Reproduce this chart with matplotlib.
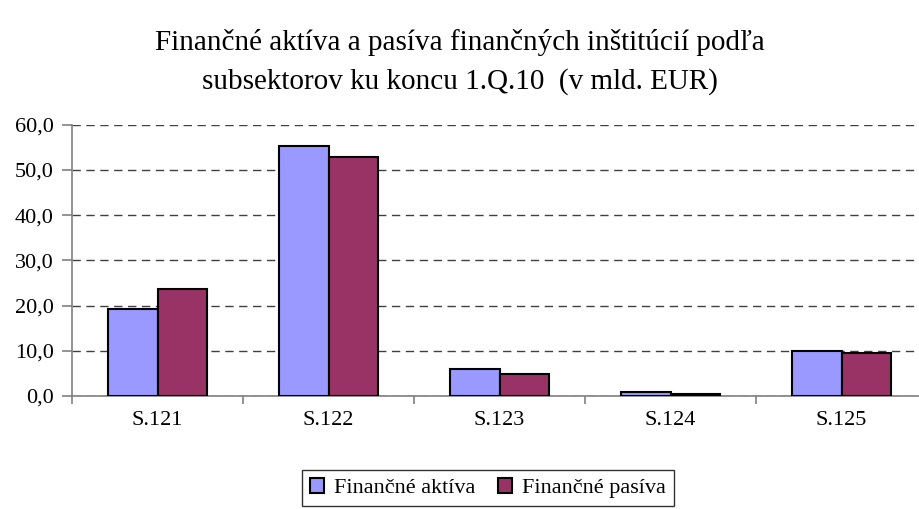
import matplotlib
matplotlib.use("Agg")
import matplotlib.pyplot as plt
import numpy as np
from matplotlib.ticker import FixedLocator, FuncFormatter

categories = ["S.121", "S.122", "S.123", "S.124", "S.125"]
aktiva = [19.3, 55.2, 6.0, 0.8, 10.0]
pasiva = [23.7, 52.9, 4.8, 0.4, 9.6]
series_names = ["Finančné aktíva", "Finančné pasíva"]
title = "Finančné aktíva a pasíva finančných inštitúcií podľa\nsubsektorov ku koncu 1.Q.10  (v mld. EUR)"

plt.rcParams['font.family'] = ['Liberation Serif', 'DejaVu Serif']

W, H = 919, 509
fig = plt.figure(figsize=(W / 100, H / 100), dpi=100)
left, right, bottom, top = 72, 927, 396, 124.7
ax = fig.add_axes([left / W, 1 - bottom / H, (right - left) / W, (bottom - top) / H])

x = np.arange(len(categories))
w = 0.287
ax.bar(x - w / 2, aktiva, w, color="#9999FF", edgecolor="black", linewidth=1.5, label=series_names[0], zorder=3)
ax.bar(x + w / 2, pasiva, w, color="#993366", edgecolor="black", linewidth=1.5, label=series_names[1], zorder=3)

ax.set_xlim(-0.5, len(categories) - 0.5)
ax.set_ylim(0, 60)
ax.set_yticks(np.arange(0, 61, 10))
ax.yaxis.set_major_formatter(FuncFormatter(lambda v, p: f"{v:.1f}".replace(".", ",")))
ax.set_xticks(x)
ax.set_xticklabels(categories)
ax.xaxis.set_minor_locator(FixedLocator(np.arange(-0.5, len(categories), 1.0)))
ax.tick_params(axis='x', which='major', length=0, pad=11, labelsize=16)
ax.tick_params(axis='x', which='minor', length=6, color="#808080", width=1.2)
ax.tick_params(axis='y', length=7, color="#808080", width=1.2, labelsize=16, pad=6)
ax.yaxis.grid(True, linestyle=(0, (6, 4)), color="#404040", linewidth=1.0, zorder=0)
for s in ["top", "right"]:
    ax.spines[s].set_visible(False)
for s in ["left", "bottom"]:
    ax.spines[s].set_color("#808080")
    ax.spines[s].set_linewidth(1.2)

fig.text(0.5, 1 - 62 / H, title, ha="center", va="center", fontsize=21, linespacing=1.6)

leg = fig.legend(loc="center", bbox_to_anchor=(488 / W, 1 - 488 / H), ncol=2, fontsize=16,
                 frameon=True, fancybox=False, edgecolor="black", handlelength=0.65, handleheight=0.65,
                 handletextpad=0.45, columnspacing=1.0, borderpad=0.35)
leg.get_frame().set_linewidth(1.0)

fig.savefig("out.png", dpi=100)
